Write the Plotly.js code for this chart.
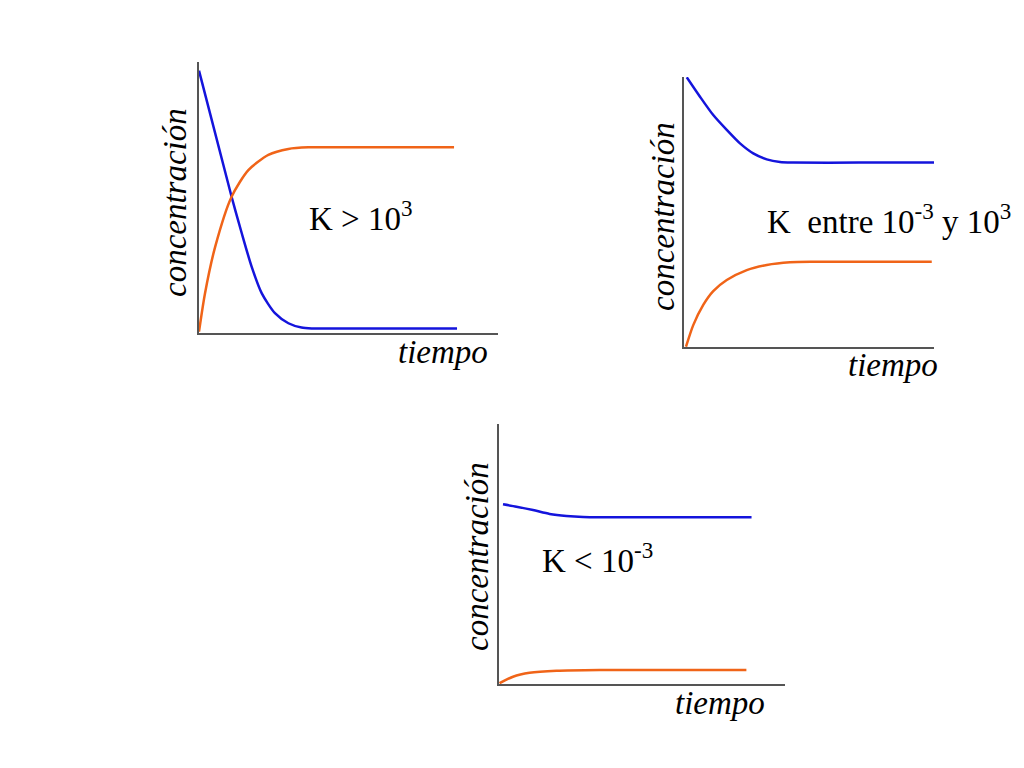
<!DOCTYPE html>
<html>
<head>
<meta charset="utf-8">
<script src="https://cdn.plot.ly/plotly-3.0.1.min.js"></script>
<style>
  html, body { margin: 0; padding: 0; background: #ffffff; }
  #chart { width: 1024px; height: 768px; }
</style>
</head>
<body>
<div id="chart"></div>
<script>
// valores (tiempo 0-100, concentración 0-100)
const tiempoA1 = [0, 10.9, 14.3, 17.6, 21.0, 25.4, 29.9, 34.3, 37.7, 60, 86.3];
const reactivoA = [96.8, 50.3, 36.8, 24.5, 14.6, 7.3, 3.6, 2.0, 1.7, 1.7, 1.7];
const tiempoA2 = [0, 2.0, 5.4, 10.9, 16.5, 23.2, 29.9, 36.6, 60, 85.3];
const productoA = [0.5, 14.6, 31.8, 50.3, 60.1, 65.7, 67.9, 68.5, 68.5, 68.5];

const tiempoB1 = [1.1, 6.4, 11.7, 17.1, 22.4, 27.7, 33.1, 38.4, 43.7, 70, 100];
const reactivoB = [99.9, 92.7, 85.9, 80.4, 75.4, 71.7, 69.5, 68.5, 68.3, 68.3, 68.3];
const tiempoB2 = [0.8, 3.7, 7.7, 11.7, 17.1, 25.1, 33.1, 42.4, 51.7, 75, 99.1];
const productoB = [0.1, 8.1, 15.6, 20.7, 24.8, 28.5, 30.4, 31.4, 31.6, 31.6, 31.6];

const tiempoC1 = [1.4, 6.1, 11.9, 17.7, 23.6, 29.4, 36.4, 60, 88.3];
const reactivoC = [69.1, 68.2, 66.9, 65.4, 64.6, 64.2, 64.1, 64.1, 64.1];
const tiempoC2 = [0.2, 4.9, 10.7, 20.1, 35.2, 60, 86.5];
const productoC = [0.3, 2.8, 4.3, 5.1, 5.4, 5.4, 5.4];

const etiquetasK = [
  "K > 10<sup>3</sup>",
  "K\u00a0\u00a0entre 10<sup>-3</sup> y 10<sup>3</sup>",
  "K < 10<sup>-3</sup>",
];
const ejeX = "tiempo";
const ejeY = "concentración";

const COLORS = {
  reactivo: "#1414dc",
  producto: "#f06418",
  axis: "#555555",
  ink: "#000000",
};
const SERIF = "\"Liberation Serif\", \"Times New Roman\", serif";

function curva(x, y, color, n) {
  const sfx = n === 1 ? "" : String(n);
  return {
    type: "scatter",
    mode: "lines",
    x,
    y,
    xaxis: "x" + sfx,
    yaxis: "y" + sfx,
    line: { color, width: 2.5, shape: "spline", smoothing: 0.7 },
    hoverinfo: "skip",
    showlegend: false,
  };
}

function eje(domain, anchor) {
  return {
    domain,
    anchor,
    range: [0, 100],
    showline: true,
    linecolor: COLORS.axis,
    linewidth: 2,
    showgrid: false,
    zeroline: false,
    showticklabels: false,
    ticks: "",
    fixedrange: true,
  };
}

function nota(text, x, y, opts = {}) {
  return {
    xref: "paper",
    yref: "paper",
    x: x / 1024,
    y: 1 - y / 768,
    xanchor: "center",
    yanchor: "middle",
    text,
    showarrow: false,
    font: { family: SERIF, size: 33, color: COLORS.ink },
    ...opts,
  };
}

const traces = [
  curva(tiempoA1, reactivoA, COLORS.reactivo, 1),
  curva(tiempoA2, productoA, COLORS.producto, 1),
  curva(tiempoB1, reactivoB, COLORS.reactivo, 2),
  curva(tiempoB2, productoB, COLORS.producto, 2),
  curva(tiempoC1, reactivoC, COLORS.reactivo, 3),
  curva(tiempoC2, productoC, COLORS.producto, 3),
];

const layout = {
  width: 1024,
  height: 768,
  margin: { l: 0, r: 0, t: 0, b: 0 },
  paper_bgcolor: "#ffffff",
  plot_bgcolor: "rgba(0,0,0,0)",
  showlegend: false,
  xaxis: eje([199 / 1024, 498 / 1024], "y"),
  yaxis: eje([1 - 333 / 768, 1 - 62 / 768], "x"),
  xaxis2: eje([684 / 1024, 934 / 1024], "y2"),
  yaxis2: eje([1 - 347 / 768, 1 - 77 / 768], "x2"),
  xaxis3: eje([499 / 1024, 785 / 1024], "y3"),
  yaxis3: eje([1 - 684 / 768, 1 - 424 / 768], "x3"),
  annotations: [
    nota("<i>" + ejeY + "</i>", 175, 203, { textangle: -90 }),
    nota("<i>" + ejeY + "</i>", 663, 217, { textangle: -90 }),
    nota("<i>" + ejeY + "</i>", 477, 557, { textangle: -90 }),
    nota("<i>" + ejeX + "</i>", 443, 352),
    nota("<i>" + ejeX + "</i>", 893, 365),
    nota("<i>" + ejeX + "</i>", 720, 703),
    nota(etiquetasK[0], 307, 216, { xanchor: "left" }),
    nota(etiquetasK[1], 765, 219, { xanchor: "left" }),
    nota(etiquetasK[2], 540, 558, { xanchor: "left" }),
  ],
};

Plotly.newPlot("chart", traces, layout, { staticPlot: true, displayModeBar: false });
</script>
</body>
</html>
